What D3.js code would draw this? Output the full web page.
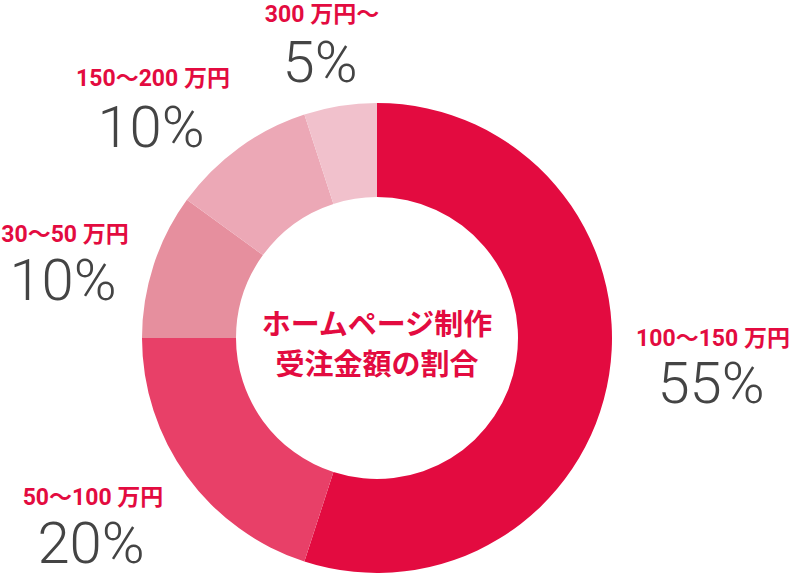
<!DOCTYPE html>
<html><head><meta charset="utf-8">
<script src="https://cdn.jsdelivr.net/npm/d3@7"></script>
<style>
html,body{margin:0;padding:0;background:#fff;}
svg{display:block;}
</style></head>
<body>
<svg id="c" width="795" height="582"></svg>
<script>
const categories = ["100〜150 万円", "50〜100 万円", "30〜50 万円", "150〜200 万円", "300 万円〜"];
const values = [55, 20, 10, 10, 5];
const colors = ["#E30B40", "#E84068", "#E68F9E", "#ECA8B6", "#F1C1CC"];
const titleLines = ["ホームページ制作", "受注金額の割合"];

// layout (label anchors: center x, label baseline, percent baseline)
const labelLayout = [
  [713, 346, 403],
  [93, 505, 563],
  [65, 242, 300],
  [153, 86, 147],
  [322, 22, 82]
];

const svg = d3.select("#c");
const cx = 377, cy = 338, rOuter = 235, rInner = 141;
const g = svg.append("g").attr("transform", `translate(${cx},${cy})`);

const pie = d3.pie().sort(null).value(d => d);
const arc = d3.arc().innerRadius(rInner).outerRadius(rOuter);
const color = d3.scaleOrdinal().domain(d3.range(values.length)).range(colors);

g.selectAll("path").data(pie(values)).join("path")
  .attr("d", arc)
  .attr("fill", (d, i) => color(i))
  .attr("stroke", "none");

const font = "Roboto, 'Noto Sans CJK JP', sans-serif";
const lab = svg.append("g");
categories.forEach((c, i) => {
  const [x, yl, yp] = labelLayout[i];
  lab.append("text").attr("x", x).attr("y", yl)
    .attr("text-anchor", "middle")
    .attr("font-family", font).attr("font-weight", 700)
    .attr("font-size", 23).attr("fill", "#E30B40")
    .text(c);
  lab.append("text").attr("x", x - 2).attr("y", yp)
    .attr("text-anchor", "middle")
    .attr("font-family", font).attr("font-weight", 300)
    .attr("font-size", 58).attr("fill", "#444444")
    .text(values[i] + "%");
});

svg.append("g").selectAll("text").data(titleLines).join("text")
  .attr("x", cx).attr("y", (d, i) => 335 + i * 40)
  .attr("text-anchor", "middle")
  .attr("font-family", "'Noto Sans CJK JP', sans-serif")
  .attr("font-weight", 700).attr("font-size", 29)
  .attr("fill", "#E30B40")
  .text(d => d);
</script>
</body></html>
